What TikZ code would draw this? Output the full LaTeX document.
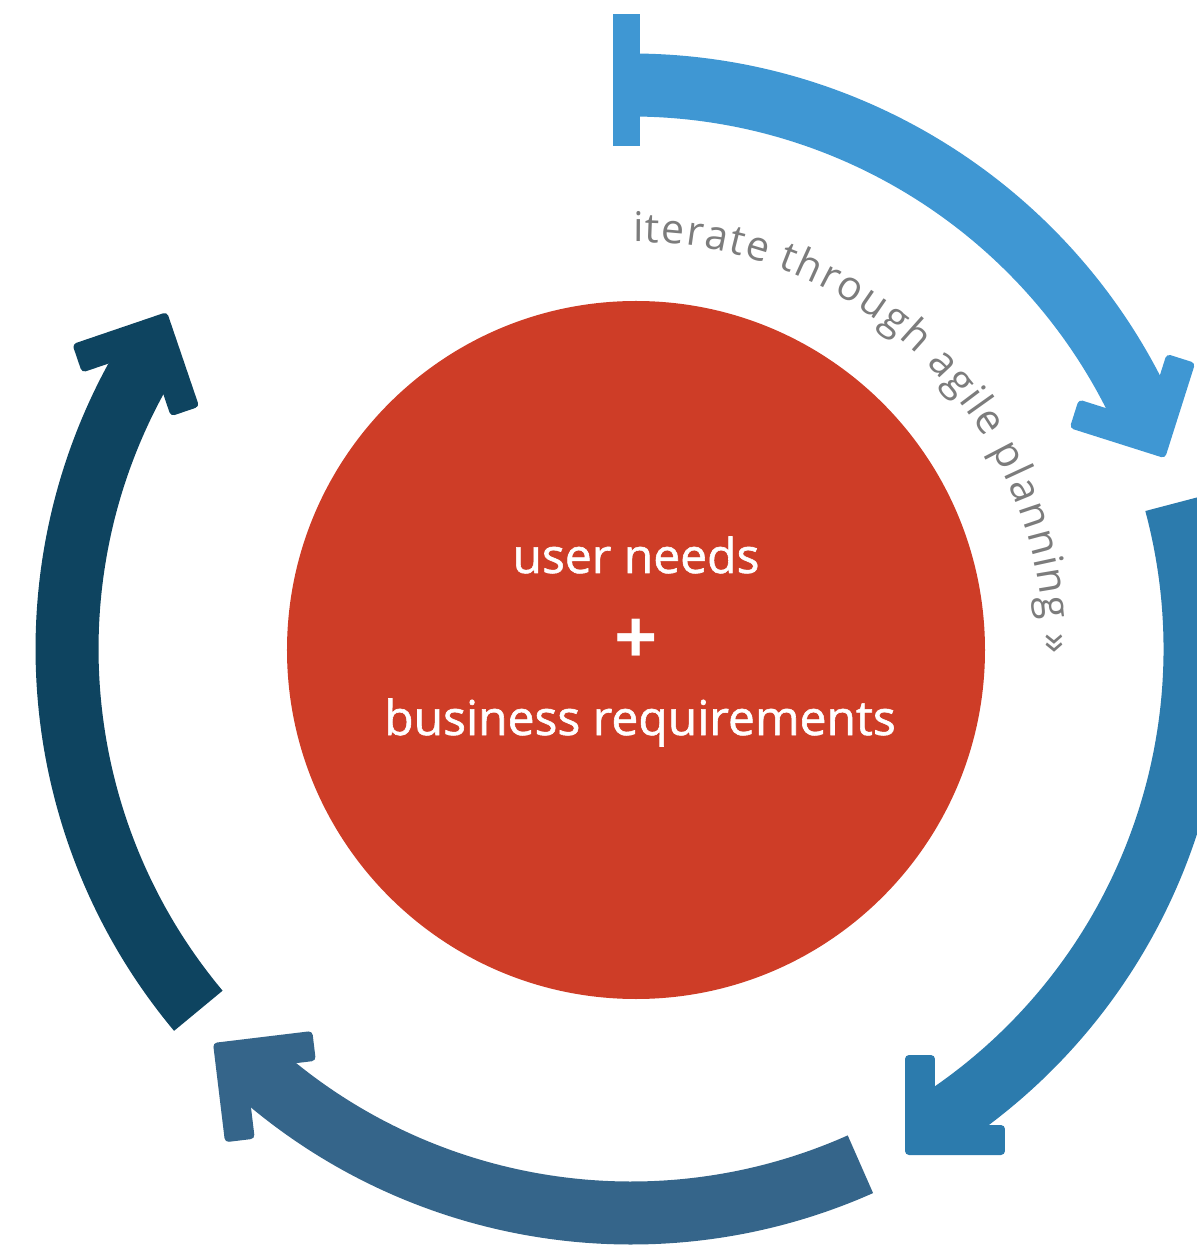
\documentclass[tikz,border=0pt]{standalone}
\usepackage{fontspec}
\setmainfont{Open Sans}
\newfontfamily\ctrfont[FakeBold=1.2]{Open Sans}
\newfontfamily\arcfont{Open Sans}
\newcommand{\arctextfont}{\arcfont\fontsize{20.5}{24}\selectfont}
\usepackage{tikz}
\usetikzlibrary{decorations.text}
\definecolor{needred}{HTML}{CE3D27}
\definecolor{topblue}{HTML}{3F97D3}
\definecolor{sideblue}{HTML}{2C7BAD}
\definecolor{lowblue}{HTML}{35658A}
\definecolor{darkblue}{HTML}{0E4460}
\definecolor{arcgray}{HTML}{7C7C7C}
\tikzstyle{ringarc} = [draw,line width=31.5pt]
\tikzstyle{arrowhead} = [fill,rounded corners=2pt]
\tikzstyle{ctrtext} = [text=white,font=\ctrfont\fontsize{24}{28}\selectfont]

\begin{document}
\begin{tikzpicture}[x=0.5pt,y=0.5pt]
 \useasboundingbox (-636,-597) rectangle (561,650);

 \fill[needred] (0,0) circle[radius=349];

 % the four arcs, all running clockwise round a slightly offset centre
 \begin{scope}[shift={(-5,1)}]
          \path[ringarc, topblue] (90:564) arc[start angle=90, end angle=23.5, radius=564];
          \fill[topblue] (-18,503) rectangle (9,635);
          \path[ringarc, sideblue] (15:564) arc[start angle=15, end angle=-58, radius=564];
          \path[ringarc, lowblue] (-66:564) arc[start angle=-66, end angle=-133, radius=564];
          \path[ringarc, darkblue] (219.9:564) arc[start angle=219.9, end angle=147.5, radius=564];

 \foreach \tx/\ty/\dir/\col in {534/190.7/-62.6/topblue, 274/-506/-135/sideblue, -418/-394/141.9/lowblue, -464/337/63.8/darkblue}
   \fill[arrowhead, \col, shift={(\tx,\ty)}, rotate=\dir] (0,0) -- (-70.7,70.7) -- (-91.9,49.5) -- (-42.4,0) -- (-91.9,-49.5) -- (-70.7,-70.7) -- cycle;
 \end{scope}

 \path[decorate, decoration={text effects along path,
   text={iterate through agile planning »},
   text effects/.cd, text along path, fit text to path,
   characters={text=arcgray, font=\arctextfont, anchor=base, inner sep=0pt}}]
   (90.4:408) arc[start angle=90.4, end angle=-0.5, radius=408];

 \node[ctrtext, anchor=base] (userneeds) at (0,77) {user needs};
 \node[text=white, font=\arcfont\bfseries\fontsize{38}{38}\selectfont] (plus) at (0,8) {+};
 \node[ctrtext, anchor=base] (bizreq) at (4,-85) {business requirements};

\end{tikzpicture}
\end{document}
